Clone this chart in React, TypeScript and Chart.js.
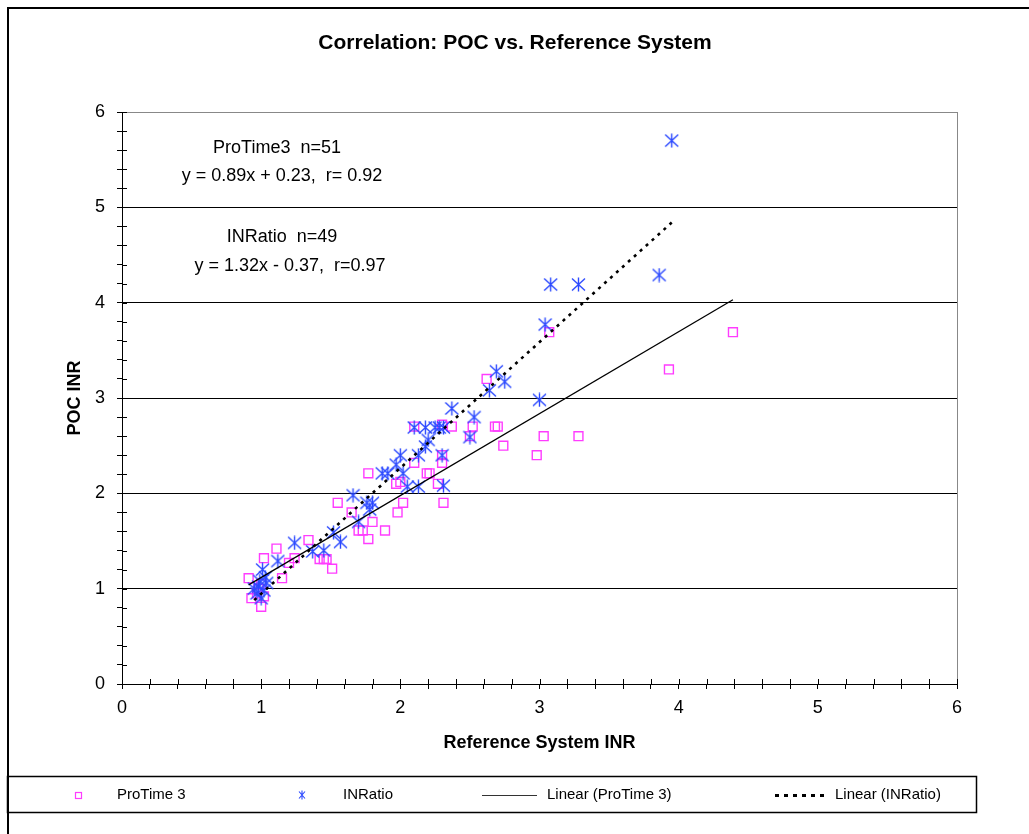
import React, { useEffect, useRef } from 'react';
import { Chart, registerables } from 'chart.js';

Chart.register(...registerables);

const TITLE = 'Correlation: POC vs. Reference System';
const X_TITLE = 'Reference System INR';
const Y_TITLE = 'POC INR';
const LEGEND_LABELS = ['ProTime 3', 'INRatio', 'Linear (ProTime 3)', 'Linear (INRatio)'];
const ANNOTATION_LINES = [
  'ProTime3  n=51',
  'y = 0.89x + 0.23,  r= 0.92',
  'INRatio  n=49',
  'y = 1.32x - 0.37,  r=0.97',
];

const AXIS_MIN = 0;
const AXIS_MAX = 6;
const MINOR_STEP = 0.2;

// ProTime 3 (pink squares)
const proTimeX = [
  4.39, 3.93, 3.07, 2.62, 3.03, 3.28, 2.74, 2.98, 2.68, 2.70,
  2.52, 2.50, 2.37, 2.10, 2.30, 2.30, 2.10, 2.19, 2.21, 1.77,
  1.97, 2.27, 2.31, 2.02, 1.55, 1.65, 1.98, 1.80, 1.70, 1.73,
  1.89, 1.77, 1.34, 1.11, 1.02, 1.24, 1.42, 1.45, 1.47, 1.51,
  0.91, 1.15, 0.93, 1.00, 0.97, 1.00, 0.98, 1.02, 1.20, 2.00,
  2.30,
];
const proTimeY = [
  3.69, 3.30, 3.69, 3.20, 2.60, 2.60, 2.50, 2.40, 2.70, 2.70,
  2.70, 2.60, 2.70, 2.70, 2.40, 2.32, 2.32, 2.21, 2.21, 2.21,
  2.10, 2.10, 1.90, 1.90, 1.90, 1.80, 1.80, 1.70, 1.61, 1.61,
  1.61, 1.52, 1.51, 1.42, 1.32, 1.32, 1.31, 1.31, 1.31, 1.21,
  1.11, 1.11, 0.90, 0.81, 0.95, 1.05, 1.00, 0.92, 1.27, 2.12,
  2.72,
];

// INRatio (blue asterisks)
const inRatioX = [
  3.95, 3.86, 3.08, 3.28, 3.04, 3.00, 2.69, 2.75, 2.64, 2.53,
  2.50, 2.37, 2.10, 2.18, 2.25, 2.28, 2.31, 2.20, 2.18, 2.13,
  2.30, 2.00, 1.97, 1.87, 1.91, 2.02, 2.05, 2.13, 2.31, 1.66,
  1.76, 1.80, 1.78, 1.70, 1.57, 1.52, 1.45, 1.37, 1.24, 1.12,
  1.01, 1.03, 0.98, 1.04, 1.00, 0.95, 1.02, 0.97, 0.99,
];
const inRatioY = [
  5.70, 4.29, 4.19, 4.19, 3.77, 2.98, 3.28, 3.17, 3.08, 2.80,
  2.59, 2.89, 2.69, 2.69, 2.69, 2.69, 2.69, 2.56, 2.49, 2.40,
  2.40, 2.40, 2.30, 2.21, 2.21, 2.21, 2.07, 2.07, 2.08, 1.98,
  1.90, 1.90, 1.83, 1.70, 1.49, 1.59, 1.40, 1.39, 1.48, 1.29,
  1.20, 1.12, 1.02, 1.06, 0.90, 1.00, 0.98, 0.95, 1.08,
];

// Trend lines (endpoints)
const proTimeFitX = [0.91, 4.39];
const proTimeFitY = [1.04, 4.03];
const inRatioFitX = [0.95, 3.95];
const inRatioFitY = [0.88, 4.84];

const FONT = "'Liberation Sans', Arial, Helvetica, sans-serif";
const PINK = '#ff3cff';
const BLUE = '#2a48ff';

function toPoints(xs: number[], ys: number[]) {
  return xs.map((x, i) => ({ x, y: ys[i] }));
}

function makeAsterisk(w: number, h: number, color: string, lw: number) {
  const c = document.createElement('canvas');
  c.width = w;
  c.height = h;
  const g = c.getContext('2d')!;
  g.strokeStyle = color;
  g.lineWidth = lw;
  g.beginPath();
  g.moveTo(w / 2, 0.5);
  g.lineTo(w / 2, h - 0.5);
  g.moveTo(1, 1.5);
  g.lineTo(w - 1, h - 1.5);
  g.moveTo(w - 1, 1.5);
  g.lineTo(1, h - 1.5);
  g.stroke();
  return c;
}

const isInt = (v: number) => Math.abs(v - Math.round(v)) < 1e-6;

export default function App() {
  const ref = useRef<HTMLCanvasElement | null>(null);

  useEffect(() => {
    const canvas = ref.current;
    if (!canvas) return;
    const asterisk = makeAsterisk(15, 15, BLUE, 1.4);
    const legendAsterisk = makeAsterisk(8, 10, BLUE, 1.1);

    const decorPlugin = {
      id: 'decor',
      afterDraw(chart: any) {
        const { ctx, chartArea, scales } = chart;
        const xs = scales.x;
        const ys = scales.y;
        ctx.save();
        // inward halves of the crossing tick marks
        ctx.strokeStyle = '#000';
        ctx.lineWidth = 1;
        ctx.beginPath();
        const n = Math.round((AXIS_MAX - AXIS_MIN) / MINOR_STEP);
        for (let i = 0; i <= n; i++) {
          const v = AXIS_MIN + i * MINOR_STEP;
          const py = Math.round(ys.getPixelForValue(v)) + 0.5;
          ctx.moveTo(chartArea.left, py);
          ctx.lineTo(chartArea.left + 5, py);
          const px = Math.round(xs.getPixelForValue(v)) + 0.5;
          ctx.moveTo(px, chartArea.bottom);
          ctx.lineTo(px, chartArea.bottom - 5);
        }
        ctx.stroke();

        // outer frame
        ctx.lineWidth = 2;
        ctx.beginPath();
        ctx.moveTo(8, 834);
        ctx.lineTo(8, 8);
        ctx.lineTo(1029, 8);
        ctx.stroke();

        // title
        ctx.fillStyle = '#000';
        ctx.textAlign = 'center';
        ctx.textBaseline = 'middle';
        ctx.font = `bold 21px ${FONT}`;
        ctx.fillText(TITLE, 515, 43);

        // annotation text
        ctx.font = `18px ${FONT}`;
        const annX = [277, 282, 282, 290];
        const annY = [148, 176, 237, 266];
        ANNOTATION_LINES.forEach((t, i) => ctx.fillText(t, annX[i], annY[i]));

        // legend
        ctx.lineWidth = 1.5;
        ctx.strokeStyle = '#000';
        ctx.strokeRect(7.5, 776.5, 969, 36);
        const ly = 795;
        ctx.font = `15px ${FONT}`;
        ctx.textAlign = 'left';
        // pink square
        ctx.strokeStyle = PINK;
        ctx.lineWidth = 1.2;
        ctx.strokeRect(75.5, 792.5, 6, 6);
        ctx.fillText(LEGEND_LABELS[0], 117, ly);
        // asterisk
        ctx.drawImage(legendAsterisk, 298, ly - 5);
        ctx.fillText(LEGEND_LABELS[1], 343, ly);
        // solid line
        ctx.strokeStyle = '#333';
        ctx.lineWidth = 1.2;
        ctx.beginPath();
        ctx.moveTo(482, ly + 0.5);
        ctx.lineTo(537, ly + 0.5);
        ctx.stroke();
        ctx.fillText(LEGEND_LABELS[2], 547, ly);
        // dotted line
        ctx.strokeStyle = '#000';
        ctx.lineWidth = 3;
        ctx.setLineDash([4, 5]);
        ctx.beginPath();
        ctx.moveTo(775, ly + 0.5);
        ctx.lineTo(828, ly + 0.5);
        ctx.stroke();
        ctx.setLineDash([]);
        ctx.fillText(LEGEND_LABELS[3], 835, ly);
        ctx.restore();
      },
    };

    const tickFont = { family: FONT, size: 18 };
    const titleFont = { family: FONT, size: 18, weight: 'bold' as const };

    const chart = new Chart(canvas, {
      type: 'scatter',
      data: {
        datasets: [
          {
            type: 'line',
            label: LEGEND_LABELS[2],
            data: toPoints(proTimeFitX, proTimeFitY),
            borderColor: '#000',
            borderWidth: 1.3,
            pointRadius: 0,
            fill: false,
            order: 0,
          } as any,
          {
            type: 'line',
            label: LEGEND_LABELS[3],
            data: toPoints(inRatioFitX, inRatioFitY),
            borderColor: '#000',
            borderWidth: 2.6,
            borderDash: [3, 5],
            pointRadius: 0,
            fill: false,
            order: 0,
          } as any,
          {
            label: LEGEND_LABELS[0],
            data: toPoints(proTimeX, proTimeY),
            pointStyle: 'rect',
            pointRadius: 6.3,
            borderColor: PINK,
            backgroundColor: 'rgba(0,0,0,0)',
            borderWidth: 1.4,
            order: 2,
          },
          {
            label: LEGEND_LABELS[1],
            data: toPoints(inRatioX, inRatioY),
            pointStyle: asterisk as any,
            pointRadius: 7,
            borderColor: BLUE,
            backgroundColor: BLUE,
            order: 1,
          },
        ],
      },
      options: {
        responsive: false,
        animation: false,
        layout: { padding: { left: 60, top: 112, right: 72, bottom: 76 } },
        plugins: {
          legend: { display: false },
          title: { display: false },
          tooltip: { enabled: false },
        },
        scales: {
          x: {
            type: 'linear',
            min: AXIS_MIN,
            max: AXIS_MAX,
            afterFit: (s: any) => {
              s.height = 74;
            },
            ticks: {
              stepSize: MINOR_STEP,
              autoSkip: false,
              maxRotation: 0,
              padding: 8,
              color: '#000',
              font: tickFont,
              callback: (v: any) => (isInt(Number(v)) ? String(Math.round(Number(v))) : ''),
            },
            grid: {
              color: (c: any) => (c.tick && isInt(c.tick.value) && Math.round(c.tick.value) === 6 ? '#888' : 'rgba(0,0,0,0)'),
              tickColor: '#000',
              tickLength: 5,
              lineWidth: 1,
            },
            border: { color: '#000', width: 1 },
            title: { display: true, text: X_TITLE, color: '#000', font: titleFont },
          },
          y: {
            type: 'linear',
            min: AXIS_MIN,
            max: AXIS_MAX,
            afterFit: (s: any) => {
              s.width = 62;
            },
            ticks: {
              stepSize: MINOR_STEP,
              autoSkip: false,
              padding: 12,
              color: '#000',
              font: tickFont,
              callback: (v: any) => (isInt(Number(v)) ? String(Math.round(Number(v))) : ''),
            },
            grid: {
              color: (c: any) => {
                if (!c.tick || !isInt(c.tick.value)) return 'rgba(0,0,0,0)';
                const r = Math.round(c.tick.value);
                if (r === 0) return 'rgba(0,0,0,0)';
                return r === 6 ? '#888' : '#000';
              },
              tickColor: '#000',
              tickLength: 5,
              lineWidth: 1,
            },
            border: { color: '#000', width: 1 },
            title: { display: true, text: Y_TITLE, color: '#000', font: titleFont },
          },
        },
      },
      plugins: [decorPlugin],
    });

    return () => chart.destroy();
  }, []);

  return (
    <canvas
      ref={ref}
      width={1029}
      height={834}
      style={{ position: 'fixed', left: 0, top: 0, width: 1029, height: 834, background: '#fff' }}
    />
  );
}
